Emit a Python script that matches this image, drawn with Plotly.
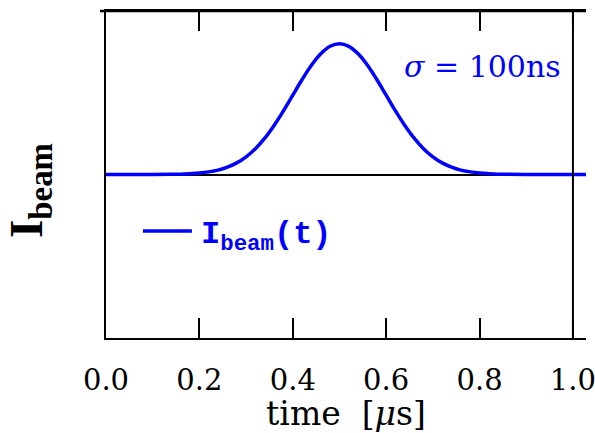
import plotly.graph_objects as go

# time in microseconds and beam current (arbitrary units)
time_us = [0.00, 0.10, 0.14, 0.16, 0.18, 0.20, 0.22, 0.24, 0.26, 0.28, 0.30,
           0.32, 0.34, 0.36, 0.38, 0.40, 0.42, 0.44, 0.46, 0.48, 0.50,
           0.52, 0.54, 0.56, 0.58, 0.60, 0.62, 0.64, 0.66, 0.68, 0.70,
           0.72, 0.74, 0.76, 0.78, 0.80, 0.82, 0.84, 0.86, 0.90, 1.03]
i_beam = [0.000, 0.000, 0.001, 0.002, 0.005, 0.009, 0.016, 0.027, 0.045, 0.071, 0.108,
          0.158, 0.222, 0.300, 0.389, 0.485, 0.581, 0.668, 0.738, 0.784, 0.800,
          0.784, 0.738, 0.668, 0.581, 0.485, 0.389, 0.300, 0.222, 0.158, 0.108,
          0.071, 0.045, 0.027, 0.016, 0.009, 0.005, 0.002, 0.001, 0.000, 0.000]

x_ticks = [0.0, 0.2, 0.4, 0.6, 0.8, 1.0]
x_tick_labels = ["0.0", "0.2", "0.4", "0.6", "0.8", "1.0"]

BLUE = "#0000ff"
SERIF = "DejaVu Serif"

fig = go.Figure()
fig.add_trace(go.Scatter(x=time_us, y=i_beam, mode="lines", line_shape="spline",
                         line=dict(color=BLUE, width=3.5), showlegend=False))

fig.update_layout(
    width=595, height=433,
    margin=dict(l=106, r=9, t=11, b=95, autoexpand=False),
    plot_bgcolor="white", paper_bgcolor="white",
    xaxis=dict(range=[0, 1.028], tickvals=x_ticks, ticktext=x_tick_labels,
               ticks="inside", ticklen=20, tickwidth=2, tickcolor="black",
               showline=True, linecolor="black", linewidth=2, mirror="ticks",
               showgrid=False, zeroline=False, ticklabelstandoff=15,
               ticklabeloverflow="allow", automargin=False,
               tickfont=dict(family=SERIF, size=29, color="black"),
               title=dict(text="time  [<i>μ</i>s]", standoff=8,
                          font=dict(family=SERIF, size=33, color="black"))),
    yaxis=dict(range=[-1, 1], showticklabels=False, ticks="", automargin=False,
               showline=True, linecolor="black", linewidth=2,
               showgrid=False, zeroline=True, zerolinecolor="black", zerolinewidth=1.5),
    shapes=[
        dict(type="line", xref="x", yref="paper", x0=1.0, x1=1.0, y0=0, y1=1,
             line=dict(color="black", width=2)),
        dict(type="line", xref="paper", yref="paper", x0=-0.0125, x1=1, y0=1, y1=1,
             line=dict(color="black", width=2.5)),
        dict(type="line", xref="paper", yref="paper", x0=0.077, x1=0.179, y0=0.327, y1=0.327,
             line=dict(color=BLUE, width=3.5)),
    ],
    annotations=[
        dict(text="<b>I<sub>beam</sub></b>", xref="paper", yref="paper",
             x=-0.158, y=0.45, xanchor="center", yanchor="middle", textangle=-90,
             showarrow=False, font=dict(family="Liberation Serif", size=47, color="black")),
        dict(text="<i>σ</i> = 100ns", xref="paper", yref="paper",
             x=0.785, y=0.83, xanchor="center", yanchor="middle",
             showarrow=False, font=dict(family=SERIF, size=30, color=BLUE)),
        dict(text="<b>I<sub>beam</sub>(t)</b>", xref="paper", yref="paper",
             x=0.193, y=0.31, xanchor="left", yanchor="middle",
             showarrow=False, font=dict(family="Liberation Mono", size=32, color=BLUE)),
    ],
)

fig.write_html("out.html")
